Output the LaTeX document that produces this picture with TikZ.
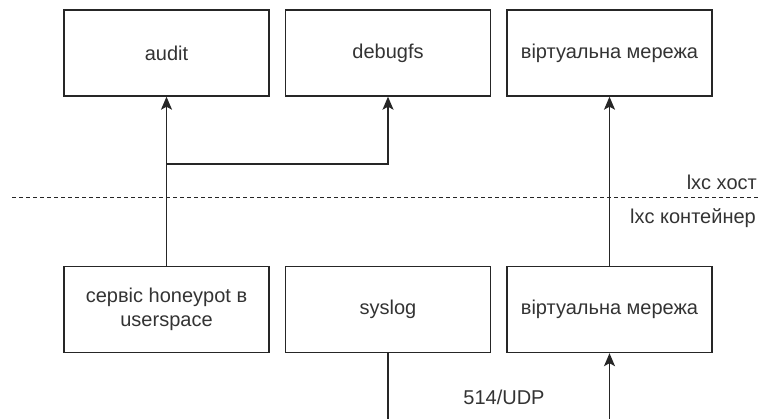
\documentclass[tikz,border=0pt]{standalone}
\usepackage{fontspec}
\setmainfont{Liberation Sans}
\usetikzlibrary{arrows.meta}
\definecolor{txt}{HTML}{333333}
\begin{document}
\begin{tikzpicture}[x=1pt,y=-1pt,
  box/.style={draw=black!85,line width=1.4pt,minimum width=205pt,minimum height=86pt,
    inner sep=0pt,align=center,text=txt,font=\fontsize{20}{24}\selectfont},
  lbl/.style={text=txt,font=\fontsize{20}{24}\selectfont,inner sep=0pt},
  arr/.style={line width=1.4pt,draw=black!85,-{Stealth[length=13pt,width=11pt,inset=3pt]}},
  ln/.style={line width=1.4pt,draw=black!85}]
\useasboundingbox (0,0) rectangle (759,419);

% host-side boxes
\node[box] (audit)   at (166.5,53) {audit};
\node[box] (debugfs) at (388,53)   {debugfs};
\node[box] (vnhost)  at (609.5,53) {віртуальна мережа};

% container-side boxes
\node[box] (honeypot) at (166.5,309.5) {сервіс honeypot в\\userspace};
\node[box] (syslog)   at (388,309.5)   {syslog};
\node[box] (vncont)   at (609.5,309.5) {віртуальна мережа};

% host / container boundary
\coordinate (bl) at (12,198);
\coordinate (br) at (759,198);
\draw[line width=1pt,black!85,dash pattern=on 4pt off 3pt] (bl) -- (br);
\node[lbl,anchor=east] (hostlbl) at (757,182) {lxc хост};
\node[lbl,anchor=east] (contlbl) at (756,218) {lxc контейнер};

% connectors
\coordinate (split) at (166.5,164);
\draw[arr] (honeypot.north) -- (audit.south);
\draw[arr] (split) -| (debugfs.south);
\draw[arr] (vncont.north) -- (vnhost.south);

\coordinate (sysout) at (388,419);
\coordinate (netin) at (609.5,419);
\draw[ln] (syslog.south) -- (sysout);
\draw[arr] (netin) -- (vncont.south);
\node[lbl] (udp) at (504,397) {514/UDP};
\end{tikzpicture}
\end{document}
